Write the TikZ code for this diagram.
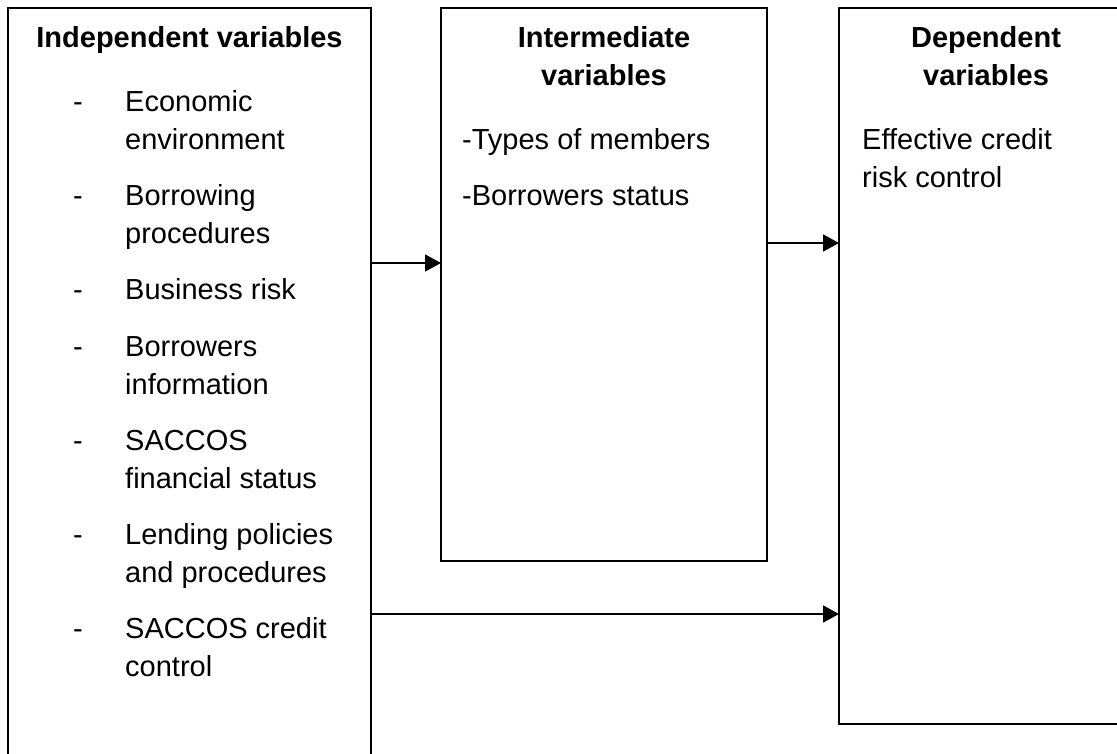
\documentclass[tikz,border=0pt]{standalone}
\usepackage{fontspec}
\setmainfont{Liberation Sans}
\usetikzlibrary{arrows.meta}
\begin{document}
\begin{tikzpicture}[x=1pt,y=-1pt,
  box/.style={draw=black, line width=1.8pt, anchor=north west, inner sep=0, outer sep=0},
  txt/.style={anchor=base west, inner sep=0, font=\fontsize{29}{38}\selectfont},
  head/.style={anchor=base, inner sep=0, font=\fontsize{29}{38}\selectfont\bfseries},
  arr/.style={line width=1.8pt, -{Triangle[length=16pt,width=17pt]}}]
\useasboundingbox (0,0) rectangle (1117,754);
% boxes
\node[box, minimum width=363pt, minimum height=780pt] (indep) at (8,8) {};
\node[box, minimum width=326pt, minimum height=553pt] (inter) at (441,8) {};
\node[box, minimum width=294pt, minimum height=716pt] (dep) at (839,8) {};
% headings
\node[head] (h1) at (189.5,48) {Independent variables};
\node[head] (h2a) at (604,48) {Intermediate};
\node[head] (h2b) at (604,86) {variables};
\node[head] (h3a) at (986,48) {Dependent};
\node[head] (h3b) at (986,86) {variables};
% left items
\node[txt] (d1) at (73,112) {-};
\node[txt] (l1a) at (125,112) {Economic};
\node[txt] (l1b) at (125,150) {environment};
\node[txt] (d2) at (73,206) {-};
\node[txt] (l2a) at (125,206) {Borrowing};
\node[txt] (l2b) at (125,244) {procedures};
\node[txt] (d3) at (73,300) {-};
\node[txt] (l3a) at (125,300) {Business risk};
\node[txt] (d4) at (73,356) {-};
\node[txt] (l4a) at (125,356) {Borrowers};
\node[txt] (l4b) at (125,394) {information};
\node[txt] (d5) at (73,450) {-};
\node[txt] (l5a) at (125,450) {SACCOS};
\node[txt] (l5b) at (125,488) {financial status};
\node[txt] (d6) at (73,544) {-};
\node[txt] (l6a) at (125,544) {Lending policies};
\node[txt] (l6b) at (125,582) {and procedures};
\node[txt] (d7) at (73,638) {-};
\node[txt] (l7a) at (125,638) {SACCOS credit};
\node[txt] (l7b) at (125,676) {control};
% middle items
\node[txt] (m1) at (462,150) {-Types of members};
\node[txt] (m2) at (462,206) {-Borrowers status};
% right items
\node[txt] (r1a) at (862,150) {Effective credit};
\node[txt] (r1b) at (862,188) {risk control};
% connectors
\draw[arr] (indep.east |- 0,263) -- (inter.west |- 0,263);
\draw[arr] (inter.east |- 0,243) -- (dep.west |- 0,243);
\draw[arr] (indep.east |- 0,614) -- (dep.west |- 0,614);
\end{tikzpicture}
\end{document}
